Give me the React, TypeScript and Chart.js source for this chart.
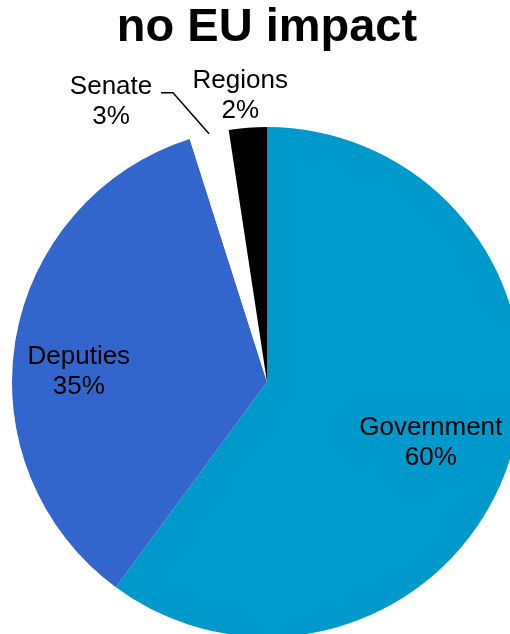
import React, { useEffect, useRef } from "react";
import { Chart, registerables } from "chart.js";

Chart.register(...registerables);

const titleText = "no EU impact";
const categories = ["Government", "Deputies", "Senate", "Regions"];
const values = [60.1, 35.0, 2.5, 2.4];
const percentLabels = ["60%", "35%", "3%", "2%"];
const sliceColors = ["#0099CC", "#3366CC", "#FFFFFF", "#000000"];

const FONT = "'Liberation Sans', Arial, Helvetica, sans-serif";

// label placement style: radius fraction and pixel nudge; outside = with leader line
const labelRadius = [0.68, 0.74, 1.0, 1.13];
const labelNudge = [[-1, 7], [-2, 21], [0, 0], [-5, 1]];
const leaderLine = [false, false, true, false];

const labelPlugin = {
  id: "sliceLabels",
  afterDatasetsDraw(chart: any) {
    const ctx = chart.ctx;
    const meta = chart.getDatasetMeta(0);
    ctx.save();
    ctx.font = `26px ${FONT}`;
    ctx.fillStyle = "#000";
    ctx.textAlign = "center";
    ctx.textBaseline = "middle";
    meta.data.forEach((arc: any, i: number) => {
      const mid = (arc.startAngle + arc.endAngle) / 2;
      const R = arc.outerRadius;
      const cos = Math.cos(mid);
      const sin = Math.sin(mid);
      let cx: number, cy: number;
      if (leaderLine[i]) {
        const p0x = arc.x + cos * R;
        const p0y = arc.y + sin * R;
        const p1x = p0x - 36;
        const p1y = p0y - 41;
        const p2x = p1x - 12;
        const p2y = p1y;
        ctx.strokeStyle = "#000";
        ctx.lineWidth = 1.5;
        ctx.beginPath();
        ctx.moveTo(p0x, p0y);
        ctx.lineTo(p1x, p1y);
        ctx.lineTo(p2x, p2y);
        ctx.stroke();
        cx = p2x - 50;
        cy = p2y + 9;
      } else {
        cx = arc.x + cos * R * labelRadius[i] + labelNudge[i][0];
        cy = arc.y + sin * R * labelRadius[i] + labelNudge[i][1];
      }
      ctx.fillText(categories[i], cx, cy - 15);
      ctx.fillText(percentLabels[i], cx, cy + 15);
    });
    ctx.restore();
  },
};

export default function App() {
  const ref = useRef<HTMLCanvasElement>(null);
  useEffect(() => {
    if (!ref.current) return;
    const chart = new Chart(ref.current, {
      type: "pie",
      data: {
        labels: categories,
        datasets: [
          {
            data: values,
            backgroundColor: sliceColors,
            borderWidth: 0,
          },
        ],
      },
      options: {
        responsive: false,
        animation: false,
        layout: { padding: { left: 12, right: 12, top: 0, bottom: 20 } },
        plugins: {
          legend: { display: false },
          tooltip: { enabled: false },
          title: {
            display: true,
            text: titleText,
            color: "#000",
            font: { family: FONT, size: 47, weight: "bold", lineHeight: 1.2 },
            padding: { top: 0, bottom: 70.6 },
          },
        },
      },
      plugins: [labelPlugin],
    } as any);
    return () => chart.destroy();
  }, []);
  return (
    <div
      style={{
        position: "fixed",
        left: 0,
        top: 0,
        width: 510,
        height: 634,
        overflow: "hidden",
        background: "#fff",
      }}
    >
      <canvas ref={ref} width={534} height={657} style={{ display: "block" }} />
    </div>
  );
}
